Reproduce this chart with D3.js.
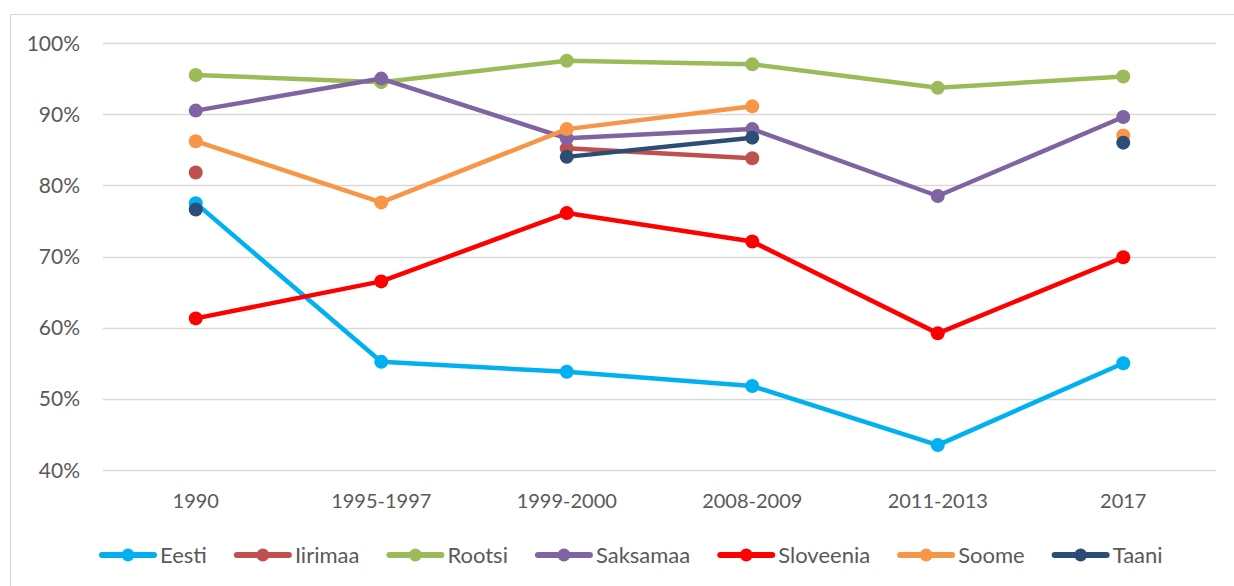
<!DOCTYPE html>
<html>
<head>
<meta charset="utf-8">
<script src="https://cdn.jsdelivr.net/npm/d3@7"></script>
<style>
  html, body { margin: 0; padding: 0; background: #fff; }
  svg { display: block; }
</style>
</head>
<body>
<svg id="chart" width="1234" height="586"></svg>
<script>
const categories = ["1990", "1995-1997", "1999-2000", "2008-2009", "2011-2013", "2017"];
const seriesNames = ["Eesti", "Iirimaa", "Rootsi", "Saksamaa", "Sloveenia", "Soome", "Taani"];
const seriesColors = ["#00B0F0", "#C0504D", "#9BBB59", "#8064A2", "#FF0000", "#F79646", "#2C4D75"];

// values in percent, null = no data
const eesti = [77.5, 55.2, 53.8, 51.8, 43.5, 55.0];
const iirimaa = [81.8, null, 85.2, 83.8, null, null];
const rootsi = [95.5, 94.5, 97.5, 97.0, 93.7, 95.3];
const saksamaa = [90.5, 95.0, 86.6, 87.9, 78.5, 89.6];
const sloveenia = [61.3, 66.5, 76.1, 72.1, 59.2, 69.9];
const soome = [86.2, 77.6, 87.9, 91.1, null, 87.0];
const taani = [76.6, null, 84.0, 86.7, null, 86.0];
const seriesValues = [eesti, iirimaa, rootsi, saksamaa, sloveenia, soome, taani];

const yTicks = [40, 50, 60, 70, 80, 90, 100];

const svg = d3.select("#chart");
const font = "Lato, 'Open Sans', sans-serif";
const textColor = "#595959";

// outer chart border (only top/left visible in the frame)
svg.append("rect")
  .attr("x", 10.5).attr("y", 14.5)
  .attr("width", 1260).attr("height", 600)
  .attr("fill", "none").attr("stroke", "#D9D9D9").attr("stroke-width", 1);

const x = d3.scaleBand().domain(categories).range([103, 1216]);
const y = d3.scaleLinear().domain([40, 100]).range([470, 43]);

// gridlines
svg.append("g")
  .selectAll("line")
  .data(yTicks)
  .join("line")
  .attr("x1", 103).attr("x2", 1216)
  .attr("y1", (d) => Math.round(y(d)) + 0.5)
  .attr("y2", (d) => Math.round(y(d)) + 0.5)
  .attr("stroke", "#D9D9D9").attr("stroke-width", 1.5);

// y axis labels
svg.append("g")
  .selectAll("text")
  .data(yTicks)
  .join("text")
  .attr("x", 80)
  .attr("y", (d) => y(d) + 7.5)
  .attr("text-anchor", "end")
  .attr("font-family", font).attr("font-size", 21).attr("fill", textColor)
  .text((d) => d + "%");

// x axis labels
svg.append("g")
  .selectAll("text")
  .data(categories)
  .join("text")
  .attr("x", (d) => x(d) + x.bandwidth() / 2)
  .attr("y", 508)
  .attr("text-anchor", "middle")
  .attr("font-family", font).attr("font-size", 20).attr("fill", textColor)
  .text((d) => d);

const cx = (i) => x(categories[i]) + x.bandwidth() / 2;
const line = d3.line()
  .defined((d) => d !== null)
  .x((d, i) => cx(i))
  .y((d) => y(d));

seriesValues.forEach((vals, s) => {
  const g = svg.append("g");
  g.append("path")
    .datum(vals)
    .attr("fill", "none")
    .attr("stroke", seriesColors[s])
    .attr("stroke-width", 4.5)
    .attr("stroke-linejoin", "round")
    .attr("stroke-linecap", "round")
    .attr("d", line);
  g.selectAll("circle")
    .data(vals.map((v, i) => ({ v, i })).filter((d) => d.v !== null))
    .join("circle")
    .attr("cx", (d) => cx(d.i))
    .attr("cy", (d) => y(d.v))
    .attr("r", 7)
    .attr("fill", seriesColors[s]);
});

// legend
const legend = svg.append("g").attr("transform", "translate(0,555)");
let lx = 100;
seriesNames.forEach((name, s) => {
  const item = legend.append("g").attr("transform", `translate(${lx},0)`);
  item.append("line")
    .attr("x1", 2).attr("x2", 54).attr("y1", 0).attr("y2", 0)
    .attr("stroke", seriesColors[s]).attr("stroke-width", 6).attr("stroke-linecap", "round");
  item.append("circle").attr("cx", 28).attr("cy", 0).attr("r", 6.5).attr("fill", seriesColors[s]);
  const t = item.append("text")
    .attr("x", 60).attr("y", 8)
    .attr("font-family", font).attr("font-size", 22).attr("fill", textColor)
    .text(name);
  lx += 60 + t.node().getComputedTextLength() + 28;
});
</script>
</body>
</html>
